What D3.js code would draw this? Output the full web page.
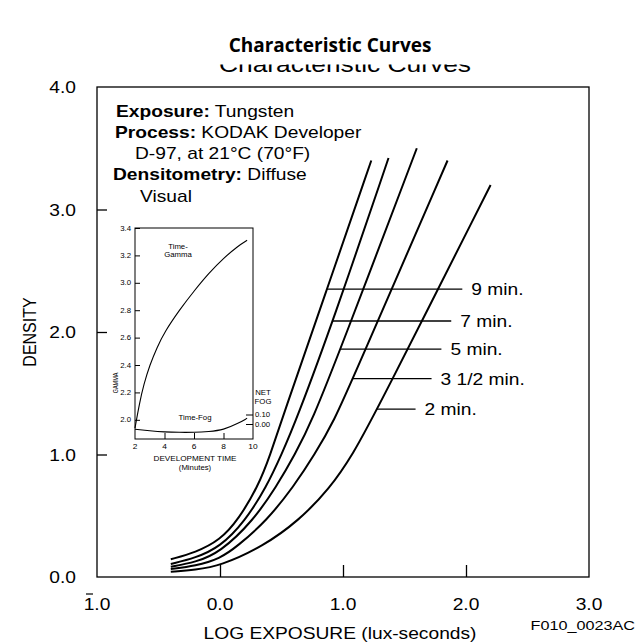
<!DOCTYPE html>
<html>
<head>
<meta charset="utf-8">
<script src="https://cdn.jsdelivr.net/npm/d3@7"></script>
<style>
  body { margin: 0; background: #fff; }
  text { font-family: "Liberation Sans", Arial, sans-serif; fill: #000; }
</style>
</head>
<body>
<svg id="chart" width="636" height="642"></svg>
<script>
// courbes caractéristiques (log exposition, densité) pour chaque temps de développement
var curve9 = [[-0.4, 0.145], [-0.2, 0.2], [0.0, 0.3], [0.15, 0.47], [0.31, 0.74], [0.41, 1.0], [0.5, 1.28], [0.87, 2.35], [1.23, 3.4]];
var curve7 = [[-0.4, 0.106], [-0.2, 0.155], [0.0, 0.245], [0.2, 0.45], [0.38, 0.74], [0.5, 1.0], [0.62, 1.28], [0.92, 2.09], [1.37, 3.42]];
var curve5 = [[-0.4, 0.084], [-0.2, 0.12], [0.0, 0.2], [0.27, 0.46], [0.46, 0.74], [0.61, 1.0], [0.75, 1.28], [0.98, 1.86], [1.6, 3.5]];
var curve35 = [[-0.4, 0.065], [-0.2, 0.09], [0.0, 0.15], [0.14, 0.25], [0.38, 0.46], [0.6, 0.74], [0.77, 1.0], [0.93, 1.28], [1.08, 1.62], [1.85, 3.4]];
var curve2 = [[-0.4, 0.043], [-0.2, 0.06], [0.0, 0.09], [0.35, 0.25], [0.64, 0.46], [0.89, 0.72], [1.08, 1.0], [1.28, 1.37], [2.2, 3.2]];
var curveNames = ["9 min.", "7 min.", "5 min.", "3 1/2 min.", "2 min."];
// densité des traits de repère, et leur fin (log exposition)
var labelDensity = [2.35, 2.09, 1.86, 1.62, 1.37];
var labelEnd = [1.97, 1.88, 1.8, 1.72, 1.59];

var xTicks = [-1, 0, 1, 2, 3];
var yTicks = [0, 1, 2, 3, 4];

// encart : temps de développement / gamma / voile
var devTime = [2, 2.3, 2.6, 3.0, 3.5, 4, 5, 6, 7, 8, 9, 9.6];
var gammaVal = [1.94, 2.12, 2.26, 2.4, 2.53, 2.64, 2.8, 2.94, 3.07, 3.18, 3.27, 3.31];
var fogTime = [2, 3, 4, 5, 6, 7, 8, 9, 9.6];
var fogVal = [-0.056, -0.072, -0.084, -0.088, -0.088, -0.08, -0.063, 0.007, 0.06];
var insetXTicks = [2, 4, 6, 8, 10];
var gammaTicks = [2.0, 2.2, 2.4, 2.6, 2.8, 3.0, 3.2, 3.4];
var fogTicks = [0.0, 0.1];

// le scan d'origine est étiré en largeur
var SX = 1.2;

var svg = d3.select("#chart");

function label(parent, x, y, str, size, anchor) {
  return parent.append("text")
    .attr("transform", "translate(" + x + "," + y + ") scale(" + SX + ",1)")
    .attr("text-anchor", anchor || "start")
    .style("font-size", size + "px")
    .text(str);
}

// titre
svg.append("text")
  .attr("x", 330).attr("y", 52)
  .attr("text-anchor", "middle")
  .style("font-family", "'Open Sans', sans-serif")
  .style("font-weight", "bold")
  .style("font-size", "19px")
  .text("Characteristic Curves");

// titre fantôme coupé (reste du scan) : seul le bas des lettres reste
svg.append("clipPath").attr("id", "cut")
  .append("rect").attr("x", 0).attr("y", 64.5).attr("width", 636).attr("height", 10);
var ghost = svg.append("g").attr("clip-path", "url(#cut)");
label(ghost, 345, 72, "Characteristic Curves", 22, "middle");

var x = d3.scaleLinear().domain([-1, 3]).range([97, 589]);
var y = d3.scaleLinear().domain([0, 4]).range([577, 87]);

// cadre
svg.append("rect")
  .attr("x", x(-1)).attr("y", y(4))
  .attr("width", x(3) - x(-1)).attr("height", y(0) - y(4))
  .attr("fill", "none").attr("stroke", "#000").attr("stroke-width", 1.3);

// graduations
var ax = svg.append("g").attr("transform", "translate(0," + y(0) + ")")
  .call(d3.axisTop(x).tickValues(xTicks.slice(1, 4)).tickSize(12).tickFormat(""));
var ay = svg.append("g").attr("transform", "translate(" + x(-1) + ",0)")
  .call(d3.axisRight(y).tickValues(yTicks.slice(1, 4)).tickSize(10).tickFormat(""));
ax.select(".domain").remove();
ay.select(".domain").remove();
svg.selectAll(".tick line").attr("stroke-width", 1.3);

xTicks.forEach(function(d) {
  label(svg, x(d), 610, Math.abs(d).toFixed(1), 16, "middle");
});
// barre au-dessus du 1 (notation 1 barre)
svg.append("line")
  .attr("x1", x(-1) - 11).attr("x2", x(-1) - 4)
  .attr("y1", 594).attr("y2", 594)
  .attr("stroke", "#000").attr("stroke-width", 1.2);

yTicks.forEach(function(d) {
  label(svg, 76, y(d) + 6, d.toFixed(1), 16, "end");
});

svg.append("text")
  .attr("transform", "translate(36," + y(2) + ") rotate(-90) scale(1," + SX + ")")
  .attr("text-anchor", "middle")
  .style("font-size", "16px")
  .text("DENSITY");

label(svg, x(1) - 3, 639, "LOG EXPOSURE (lux-seconds)", 16, "middle");
label(svg, 635, 630, "F010_0023AC", 13.5, "end");

// annotation
var notes = [
  ["Exposure:", " Tungsten", 116, 117],
  ["Process:", " KODAK Developer", 115, 138],
  ["", "D-97, at 21\u00B0C (70\u00B0F)", 135, 159],
  ["Densitometry:", " Diffuse", 113, 180],
  ["", "Visual", 140, 202]
];
notes.forEach(function(n) {
  var t = label(svg, n[2], n[3], "", 16);
  t.append("tspan").style("font-weight", "bold").text(n[0]);
  t.append("tspan").text(n[1]);
});

// courbes principales
var line = d3.line()
  .x(function(d) { return x(d[0]); })
  .y(function(d) { return y(d[1]); })
  .curve(d3.curveBasis);

var curves = [curve9, curve7, curve5, curve35, curve2];
var paths = svg.selectAll(".curve").data(curves).enter().append("path")
  .attr("d", line)
  .attr("fill", "none").attr("stroke", "#000").attr("stroke-width", 2);

// traits de repère partant de chaque courbe
paths.each(function(d, i) {
  var node = this, total = node.getTotalLength();
  var target = y(labelDensity[i]);
  var lo = 0, hi = total;
  for (var k = 0; k < 40; k++) {
    var mid = (lo + hi) / 2;
    if (node.getPointAtLength(mid).y > target) lo = mid; else hi = mid;
  }
  var px = node.getPointAtLength(lo).x;
  svg.append("line")
    .attr("x1", px).attr("x2", x(labelEnd[i]))
    .attr("y1", target).attr("y2", target)
    .attr("stroke", "#000").attr("stroke-width", 1.3);
  label(svg, x(labelEnd[i]) + 9, target + 6, curveNames[i], 16);
});

// encart
var ix = d3.scaleLinear().domain([2, 10]).range([135, 253]);
var iy = d3.scaleLinear().domain([1.86, 3.4]).range([439, 228]);
var fy = d3.scaleLinear().domain([0, 0.1]).range([424, 414.5]);

svg.append("rect")
  .attr("x", ix(2)).attr("y", iy(3.4))
  .attr("width", ix(10) - ix(2)).attr("height", iy(1.86) - iy(3.4))
  .attr("fill", "#fff").attr("stroke", "#000").attr("stroke-width", 1);

var ia = svg.append("g").attr("transform", "translate(0," + iy(1.86) + ")")
  .call(d3.axisTop(ix).tickValues(insetXTicks.slice(1, 4)).tickSize(6).tickFormat(""));
var ib = svg.append("g").attr("transform", "translate(" + ix(2) + ",0)")
  .call(d3.axisRight(iy).tickValues(gammaTicks).tickSize(5).tickFormat(""));
var ic = svg.append("g").attr("transform", "translate(" + ix(10) + ",0)")
  .call(d3.axisLeft(fy).tickValues(fogTicks).tickSize(7).tickFormat(""));
[ia, ib, ic].forEach(function(g) {
  g.select(".domain").remove();
  g.selectAll(".tick line").attr("stroke-width", 1);
});

insetXTicks.forEach(function(d) {
  label(svg, ix(d), 449, String(d), 7, "middle");
});
gammaTicks.forEach(function(d) {
  label(svg, 131, iy(d) + 2.5, d.toFixed(1), 6.5, "end");
});
fogTicks.forEach(function(d) {
  label(svg, 255, fy(d) + 2.5, d.toFixed(2), 6.5);
});

label(svg, 263, 394.5, "NET", 6.5, "middle");
label(svg, 263, 403.5, "FOG", 6.5, "middle");
label(svg, 195, 460.5, "DEVELOPMENT TIME", 6.8, "middle");
label(svg, 195, 470, "(Minutes)", 6.5, "middle");
svg.append("text").attr("transform", "translate(118,383) rotate(-90) scale(1," + SX + ")")
  .attr("text-anchor", "middle").style("font-size", "5.5px").text("GAMMA");
label(svg, 178, 249, "Time-", 6.5, "middle");
label(svg, 178, 257, "Gamma", 6.5, "middle");
label(svg, 195, 419.5, "Time-Fog", 6.5, "middle");

var gline = d3.line()
  .x(function(d, i) { return ix(devTime[i]); })
  .y(function(d) { return iy(d); })
  .curve(d3.curveBasis);
svg.append("path").attr("d", gline(gammaVal))
  .attr("fill", "none").attr("stroke", "#000").attr("stroke-width", 1.1);

var fline = d3.line()
  .x(function(d, i) { return ix(fogTime[i]); })
  .y(function(d) { return fy(d); })
  .curve(d3.curveBasis);
svg.append("path").attr("d", fline(fogVal))
  .attr("fill", "none").attr("stroke", "#000").attr("stroke-width", 1.1);
</script>
</body>
</html>
